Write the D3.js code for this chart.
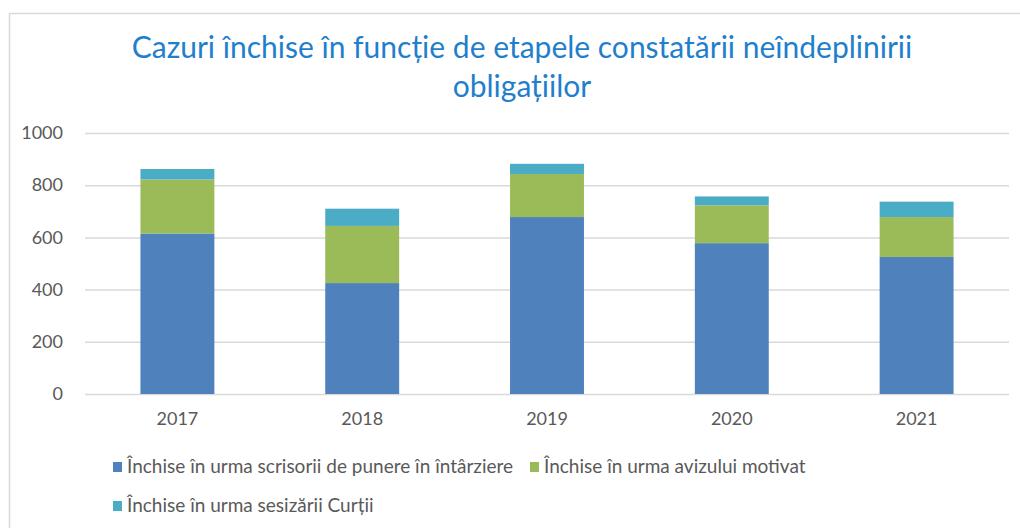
<!DOCTYPE html>
<html>
<head>
<meta charset="utf-8">
<script src="https://cdn.jsdelivr.net/npm/d3@7"></script>
<style>
  body { margin: 0; background: #fff; }
  svg { display: block; font-family: Lato, "Open Sans", sans-serif; }
</style>
</head>
<body>
<div id="chart"></div>
<script>
// data
const years = ['2017', '2018', '2019', '2020', '2021'];
const scrisori = [615, 425, 678, 578, 525];
const avize = [207, 219, 165, 145, 153];
const sesizari = [40, 66, 39, 34, 59];
const seriesNames = [
    'Închise în urma scrisorii de punere în întârziere',
    'Închise în urma avizului motivat',
    'Închise în urma sesizării Curții'
];
const yTicks = [0, 200, 400, 600, 800, 1000];
const colors = ['#4f81bd', '#9bbb59', '#4bacc6'];

const width = 1020;
const height = 528;
const margin = { left: 85, right: 11, top: 133, bottom: 134 };

const svg = d3.select('#chart')
    .append('svg')
    .attr('width', width)
    .attr('height', height);

// chart frame
svg.append('rect')
    .attr('x', 9.5)
    .attr('y', 13.5)
    .attr('width', 1040)
    .attr('height', 540)
    .attr('fill', 'none')
    .attr('stroke', '#d9d9d9')
    .attr('stroke-width', 1.5);

// title
const title = svg.append('text')
    .attr('text-anchor', 'middle')
    .attr('fill', '#1f7fcc')
    .style('font-size', '30px');
title.append('tspan').attr('x', 522).attr('y', 58)
    .text('Cazuri închise în funcție de etapele constatării neîndeplinirii');
title.append('tspan').attr('x', 522).attr('y', 97)
    .text('obligațiilor');

const x = d3.scaleBand()
    .domain(years)
    .range([margin.left, width - margin.right])
    .paddingInner(0.6)
    .paddingOuter(0.3);

const y = d3.scaleLinear()
    .domain([0, 1000])
    .range([height - margin.bottom, margin.top]);

// gridlines + y labels
const yAxis = svg.append('g')
    .attr('transform', `translate(${margin.left},0)`)
    .call(d3.axisLeft(y)
        .tickValues(yTicks)
        .tickFormat(d3.format('d'))
        .tickSize(-(width - margin.left - margin.right))
        .tickPadding(22));
yAxis.select('.domain').remove();
yAxis.selectAll('line').attr('stroke', '#d9d9d9').attr('stroke-width', 1.5);
yAxis.selectAll('text')
    .attr('x', -22)
    .attr('fill', '#595959')
    .style('font-size', '18px')
    .style('font-family', 'Lato, sans-serif');

// stacked bars
const rows = years.map((yr, i) => ({ year: yr, a: scrisori[i], b: avize[i], c: sesizari[i] }));
const stack = d3.stack().keys(['a', 'b', 'c']);
const layers = stack(rows);

svg.append('g')
    .selectAll('g')
    .data(layers)
    .join('g')
    .attr('fill', (d, i) => colors[i])
    .selectAll('rect')
    .data(d => d)
    .join('rect')
    .attr('x', d => x(d.data.year))
    .attr('y', d => y(d[1]))
    .attr('width', x.bandwidth())
    .attr('height', d => y(d[0]) - y(d[1]));

// x labels
const xAxis = svg.append('g')
    .attr('transform', `translate(0,${height - margin.bottom})`)
    .call(d3.axisBottom(x).tickSize(0).tickPadding(18));
xAxis.select('.domain').remove();
xAxis.selectAll('text')
    .attr('fill', '#595959')
    .style('font-size', '18px')
    .style('font-family', 'Lato, sans-serif');

// legend
const legendPos = [[113, 467], [530, 467], [113, 506]];
const legend = svg.append('g')
    .selectAll('g')
    .data(seriesNames)
    .join('g')
    .attr('transform', (d, i) => `translate(${legendPos[i][0]},${legendPos[i][1]})`);

legend.append('rect')
    .attr('x', 0)
    .attr('y', -5)
    .attr('width', 9)
    .attr('height', 10)
    .attr('fill', (d, i) => colors[i]);

legend.append('text')
    .attr('x', 14)
    .attr('y', 6)
    .attr('fill', '#595959')
    .style('font-size', '19px')
    .text(d => d);
</script>
</body>
</html>
